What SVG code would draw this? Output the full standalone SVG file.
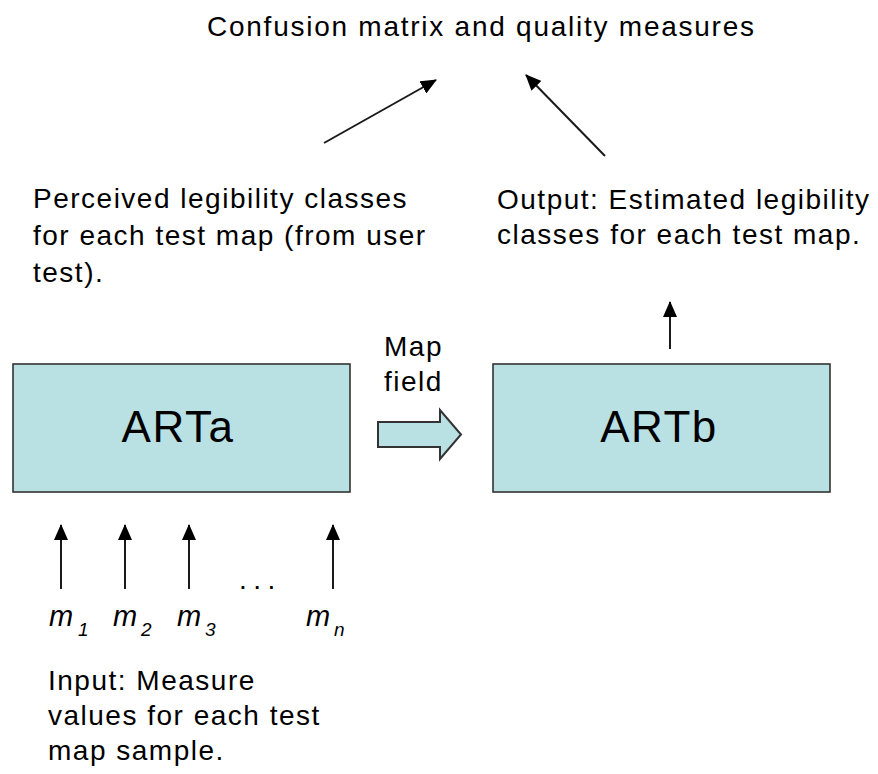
<svg xmlns="http://www.w3.org/2000/svg" width="878" height="774" viewBox="0 0 878 774">
  <style>
    .t { font-family: "Liberation Sans", Arial, sans-serif; font-size: 28px; letter-spacing: 1.5px; fill: #000; }
    .big { font-family: "Liberation Sans", Arial, sans-serif; font-size: 44px; letter-spacing: 1.5px; fill: #000; }
    .var { font-family: "Liberation Sans", Arial, sans-serif; font-style: italic; font-size: 29px; fill: #000; }
    .sub { font-family: "Liberation Sans", Arial, sans-serif; font-style: italic; font-size: 19px; fill: #000; }
    .box { fill: #B9E0E3; stroke: #333; stroke-width: 1.6; }
    .edge { stroke: #1a1a1a; stroke-width: 2; fill: none; marker-end: url(#head); }
  </style>
  <defs>
    <marker id="head" markerUnits="userSpaceOnUse" markerWidth="16" markerHeight="14" refX="15" refY="7" orient="auto">
      <path d="M0,0 L16,7 L0,14 Z" fill="#000"/>
    </marker>
  </defs>
  <rect width="878" height="774" fill="#fff"/>

  <!-- heading -->
  <g id="result">
    <text class="t" x="207" y="36" style="letter-spacing:1.75px">Confusion matrix and quality measures</text>
  </g>

  <!-- left label: perceived classes -->
  <g id="perceived">
    <text class="t" x="33" y="208">Perceived legibility classes</text>
    <text class="t" x="33" y="245">for each test map (from user</text>
    <text class="t" x="33" y="282">test).</text>
  </g>

  <!-- right label: estimated classes -->
  <g id="output">
    <text class="t" x="497" y="209">Output: Estimated legibility</text>
    <text class="t" x="497" y="244">classes for each test map.</text>
  </g>

  <!-- ARTa module -->
  <g id="arta">
    <rect class="box" x="13" y="364" width="337" height="128"/>
    <text class="big" x="178" y="442" text-anchor="middle">ARTa</text>
  </g>

  <!-- ARTb module -->
  <g id="artb">
    <rect class="box" x="493" y="364" width="337" height="128"/>
    <text class="big" x="659" y="442" text-anchor="middle">ARTb</text>
  </g>

  <!-- map field link -->
  <g id="mapfield">
    <text class="t" x="384" y="356">Map</text>
    <text class="t" x="384" y="391">field</text>
    <polygon points="378,422 440,422 440,410 461,434.5 440,459 440,447 378,447" fill="#B9E0E3" stroke="#333" stroke-width="2" stroke-linejoin="miter"/>
  </g>

  <!-- input measures -->
  <g id="inputs">
    <text class="var" x="49" y="626">m</text><text class="sub" x="78" y="636">1</text>
    <text class="var" x="113" y="626">m</text><text class="sub" x="141" y="636">2</text>
    <text class="var" x="177" y="626">m</text><text class="sub" x="205" y="636">3</text>
    <text class="t" x="239" y="589" style="letter-spacing:6.5px">...</text>
    <text class="var" x="306" y="626">m</text><text class="sub" x="334" y="636">n</text>
  </g>

  <!-- input label -->
  <g id="input-label">
    <text class="t" x="48" y="690">Input: Measure</text>
    <text class="t" x="48" y="725">values for each test</text>
    <text class="t" x="48" y="760">map sample.</text>
  </g>

  <!-- connectors -->
  <g id="connectors">
    <line class="edge" x1="324" y1="143" x2="436" y2="80"/>
    <line class="edge" x1="605" y1="156" x2="526" y2="75"/>
    <line class="edge" x1="670" y1="349" x2="670" y2="302"/>
    <line class="edge" x1="61" y1="589" x2="61" y2="525"/>
    <line class="edge" x1="125" y1="589" x2="125" y2="525"/>
    <line class="edge" x1="189" y1="589" x2="189" y2="525"/>
    <line class="edge" x1="333" y1="589" x2="333" y2="525"/>
  </g>
</svg>
